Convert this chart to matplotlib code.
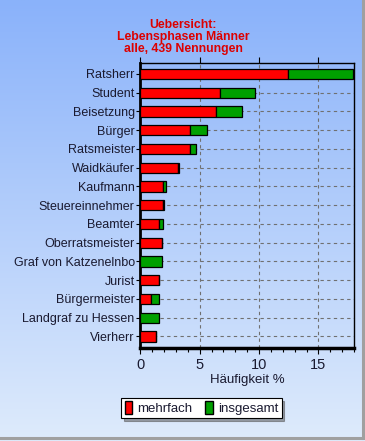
import numpy as np
import matplotlib
matplotlib.use('Agg')
import matplotlib.pyplot as plt
from matplotlib.patches import Patch

plt.rcParams['font.family'] = ['Liberation Sans', 'DejaVu Sans']

# data (Häufigkeit in %)
categories = ['Ratsherr', 'Student', 'Beisetzung', 'Bürger', 'Ratsmeister', 'Waidkäufer',
              'Kaufmann', 'Steuereinnehmer', 'Beamter', 'Oberratsmeister',
              'Graf von Katzenelnbo', 'Jurist', 'Bürgermeister', 'Landgraf zu Hessen', 'Vierherr']
mehrfach = [12.45, 6.75, 6.35, 4.2, 4.2, 3.2, 1.95, 1.95, 1.55, 1.8, 0.0, 1.55, 0.9, 0.0, 1.3]
insgesamt = [5.45, 2.95, 2.2, 1.4, 0.5, 0.05, 0.25, 0.05, 0.4, 0.05, 1.8, 0.05, 0.65, 1.55, 0.05]
title_lines = ['Uebersicht:', 'Lebensphasen Männer', 'alle, 439 Nennungen']

fig = plt.figure(figsize=(3.65, 4.41), dpi=100)

# gradient background
bg = fig.add_axes([0, 0, 1, 1], zorder=-10)
top_col = np.array([138, 178, 250]) / 255
bot_col = np.array([222, 235, 252]) / 255
t = np.linspace(0, 1, 256)[:, None]
grad = top_col * (1 - t[..., None]) + bot_col * t[..., None]
grad = np.repeat(grad, 2, axis=1)
bg.imshow(grad, aspect='auto', extent=[0, 1, 0, 1], origin='upper')
bg.plot([362.5 / 365, 362.5 / 365], [1, 3 / 441], color='#a0a0a0', lw=2.2)
bg.plot([0, 1], [3 / 441, 3 / 441], color='#a0a0a0', lw=2.2)
bg.set_xlim(0, 1)
bg.set_ylim(0, 1)
bg.axis('off')

ax = fig.add_axes([140.3 / 365, 1 - 347.7 / 441, (354 - 140.3) / 365, (347.7 - 62.7) / 441])
ax.set_facecolor('none')

y = np.arange(len(categories))
ax.barh(y, mehrfach, height=0.55, color='#ff0000', edgecolor='black', linewidth=0.9, zorder=3)
ax.barh(y, insgesamt, left=mehrfach, height=0.55, color='#00a000', edgecolor='black',
        linewidth=0.9, zorder=3)

ax.set_xlim(0, 18)
ax.set_ylim(14.6, -0.6)
ax.set_yticks(y)
ax.set_yticklabels(categories, fontsize=9, color='#1a1a30')
ax.set_xticks([0, 5, 10, 15])
ax.set_xticks(np.arange(0, 19, 1), minor=True)
ax.tick_params(axis='x', labelsize=10.5, length=4, width=0.8, top=True, direction='out',
               labelcolor='#1a1a30')
ax.tick_params(axis='x', which='minor', length=3, width=0.8)
ax.tick_params(axis='y', length=3, width=0.8, pad=1)
ax.set_xlabel('Häufigkeit %', fontsize=9.5, labelpad=1, color='#1a1a30')

for x in [5, 10, 15]:
    ax.axvline(x, color='#707070', lw=0.8, ls=(0, (3, 3)), zorder=1)
for yy in y:
    ax.axhline(yy, color='#707070', lw=0.8, ls=(0, (3, 3)), zorder=1)

ax.spines['left'].set_linewidth(2)
ax.spines['bottom'].set_linewidth(2.5)
ax.spines['top'].set_linewidth(1)
ax.spines['right'].set_linewidth(1)

fig.text(183 / 365, 1 - 37 / 441, '\n'.join(title_lines), ha='center', va='center',
         color='#dd0000', fontsize=8.8, fontweight='bold', linespacing=1.0)

handles = [Patch(facecolor='#ff0000', edgecolor='black', label='mehrfach'),
           Patch(facecolor='#00a000', edgecolor='black', label='insgesamt')]
leg = fig.legend(handles=handles, loc='center', bbox_to_anchor=(201.5 / 365, 1 - 408 / 441),
                 ncol=2, fontsize=9.5, frameon=True, fancybox=False, shadow=True,
                 handlelength=0.55, handleheight=1.1, handletextpad=0.4, columnspacing=1.0,
                 borderpad=0.25, borderaxespad=0)
leg.get_frame().set_edgecolor('black')
leg.get_frame().set_linewidth(0.8)
for txt in leg.get_texts():
    txt.set_color('#1a1a30')

fig.savefig('out.png', dpi=100)
